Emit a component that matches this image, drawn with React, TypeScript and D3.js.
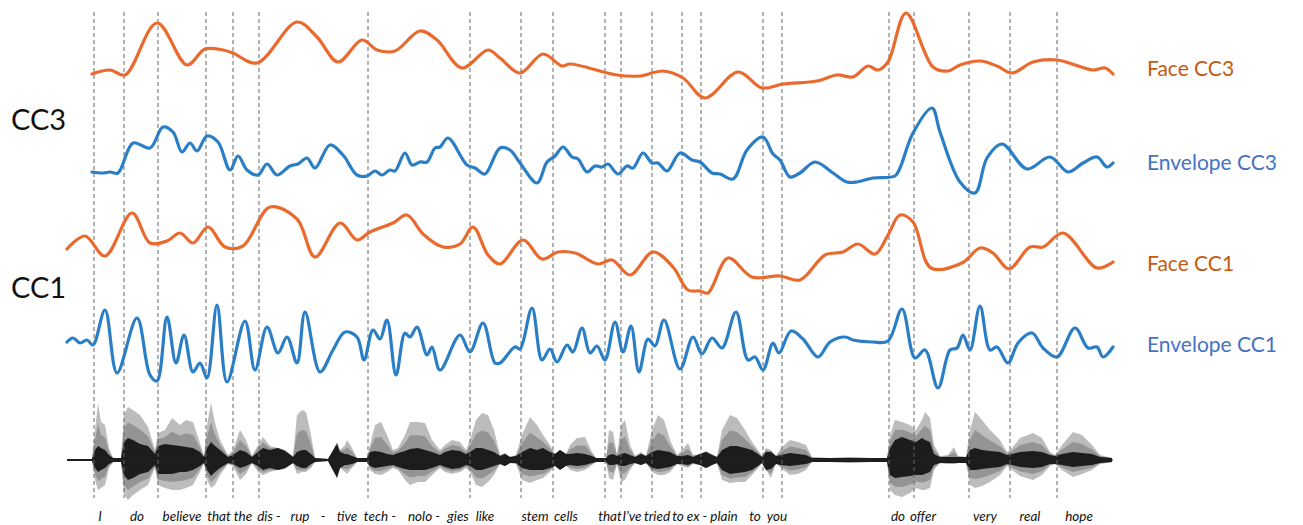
import React from "react";
import * as d3 from "d3";

// time axis in arbitrary frame units (0 .. 1060)
const boundaries = [34, 64, 98, 146, 173, 199, 308, 410, 461, 493, 545, 561, 592, 622, 641, 703, 722, 829, 854, 909, 950, 997];

const words = ["I", "do", "believe", "that", "the", "dis -", "rup", "-", "tive", "tech -", "nolo -", "gies", "like", "stem", "cells", "that", "I\u2019ve", "tried", "to", "ex -", "plain", "to", "you", "do", "offer", "very", "real", "hope"];
const wordT = [40, 77, 122, 159, 183, 209, 240, 263, 287, 320, 364, 398, 425, 475, 506, 550, 572, 597, 618, 637, 664, 695, 717, 838, 863, 925, 970, 1019];

const faceCC3T = [32, 50, 65, 97, 127, 145, 163, 173, 197, 237, 257, 278, 302, 317, 335, 360, 377, 402, 428, 440, 460, 483, 502, 510, 557, 580, 603, 623, 645, 678, 702, 723, 757, 777, 793, 808, 818, 828, 846, 873, 888, 900, 920, 937, 952, 973, 997, 1033, 1045, 1053];
const faceCC3V = [31, 35, 30, 82, 40, 56, 55, 52, 42, 83, 68, 43, 65, 55, 54, 74, 65, 37, 55, 47, 32, 51, 39, 41, 30, 29, 34, 27, 7, 33, 17, 21, 24, 30, 28, 39, 35, 43, 92, 38, 34, 40, 44, 39, 32, 43, 45, 35, 37, 31];

const envCC3T = [32, 43, 50, 58, 73, 90, 103, 113, 122, 130, 137, 147, 158, 170, 178, 187, 198, 207, 217, 230, 238, 247, 255, 270, 283, 297, 307, 315, 322, 330, 335, 345, 352, 360, 367, 375, 380, 388, 407, 415, 425, 440, 450, 460, 477, 487, 495, 503, 512, 518, 527, 535, 542, 548, 558, 567, 573, 583, 592, 598, 607, 620, 632, 640, 652, 660, 673, 687, 703, 713, 720, 730, 740, 755, 773, 787, 797, 813, 835, 840, 853, 872, 880, 900, 915, 927, 942, 967, 990, 1008, 1023, 1037, 1047, 1053];
const envCC3V = [28, 27, 28, 27, 57, 52, 73, 68, 48, 57, 49, 64, 58, 30, 44, 30, 25, 36, 25, 34, 36, 42, 32, 55, 45, 25, 24, 29, 25, 30, 29, 47, 35, 38, 38, 52, 53, 62, 35, 32, 26, 52, 50, 37, 17, 38, 44, 53, 43, 41, 28, 34, 33, 36, 26, 34, 32, 47, 37, 37, 29, 47, 40, 38, 27, 26, 21, 50, 63, 46, 40, 23, 27, 38, 27, 18, 18, 22, 24, 32, 67, 92, 68, 18, 7, 42, 56, 31, 43, 28, 37, 43, 33, 37];

const faceCC1T = [7, 25, 45, 72, 90, 107, 120, 133, 148, 165, 183, 210, 237, 255, 280, 297, 310, 333, 347, 363, 383, 400, 413, 428, 440, 463, 482, 498, 515, 538, 552, 570, 593, 613, 628, 640, 648, 668, 692, 720, 740, 765, 783, 798, 815, 828, 840, 853, 871, 902, 920, 933, 949, 970, 983, 1003, 1037, 1053];
const faceCC1V = [51, 64, 44, 87, 57, 59, 67, 57, 73, 53, 54, 93, 81, 43, 77, 60, 68, 77, 85, 66, 53, 56, 73, 45, 36, 60, 41, 48, 47, 36, 40, 25, 48, 33, 10, 9, 7, 42, 23, 24, 20, 45, 48, 56, 46, 65, 85, 78, 32, 37, 52, 47, 31, 53, 53, 67, 32, 38];

const envCC1T = [7, 13, 20, 27, 33, 45, 57, 77, 90, 97, 107, 116, 124, 133, 140, 147, 157, 167, 185, 195, 207, 218, 227, 237, 245, 260, 273, 285, 297, 304, 313, 320, 327, 336, 345, 350, 357, 367, 372, 380, 400, 410, 423, 435, 440, 455, 460, 472, 482, 490, 497, 507, 513, 522, 530, 537, 545, 555, 563, 571, 579, 588, 595, 604, 620, 633, 642, 652, 662, 676, 688, 695, 703, 713, 719, 731, 743, 758, 770, 785, 793, 813, 828, 842, 855, 865, 878, 890, 897, 903, 910, 920, 930, 937, 948, 958, 972, 983, 997, 1015, 1028, 1037, 1043, 1053];
const envCC1V = [58, 62, 57, 60, 55, 90, 27, 82, 25, 19, 83, 37, 65, 28, 37, 22, 95, 18, 79, 30, 73, 47, 63, 37, 88, 28, 50, 68, 63, 40, 70, 61, 80, 25, 67, 63, 73, 45, 53, 30, 65, 48, 77, 37, 37, 53, 51, 92, 40, 51, 38, 55, 48, 72, 47, 54, 40, 78, 48, 74, 28, 61, 54, 80, 31, 63, 46, 62, 52, 88, 40, 43, 30, 57, 47, 69, 61, 43, 58, 63, 60, 58, 59, 91, 42, 50, 12, 50, 52, 65, 50, 94, 50, 53, 37, 57, 67, 52, 43, 72, 52, 53, 43, 53];

// speech waveform envelope (amplitude above / below the centre line)
const waveT = [7, 32, 35, 38, 41, 45, 49, 53, 61, 64, 68, 73, 80, 88, 95, 98, 105, 112, 120, 126, 133, 140, 144, 147, 151, 155, 160, 168, 173, 180, 186, 192, 198, 203, 210, 218, 225, 233, 237, 242, 246, 251, 255, 268, 277, 280, 285, 287, 292, 297, 307, 310, 315, 321, 327, 333, 338, 345, 350, 358, 365, 372, 380, 385, 392, 400, 406, 410, 416, 422, 428, 434, 440, 445, 450, 456, 462, 470, 477, 483, 490, 495, 500, 506, 510, 517, 525, 532, 536, 546, 549, 553, 557, 561, 565, 570, 575, 581, 586, 592, 598, 604, 610, 617, 622, 628, 633, 640, 646, 652, 657, 662, 670, 677, 685, 692, 698, 702, 706, 711, 716, 721, 730, 738, 746, 752, 770, 790, 810, 827, 830, 835, 842, 850, 856, 862, 865, 870, 874, 880, 888, 894, 898, 906, 910, 915, 922, 930, 940, 947, 952, 960, 973, 982, 990, 995, 1002, 1013, 1022, 1032, 1040, 1052];
const waveLightUp = [1, 1, 30, 57, 38, 35, 12, 2, 2, 45, 53, 50, 45, 33, 10, 27, 30, 42, 35, 40, 38, 17, 4, 35, 57, 37, 20, 5, 10, 30, 20, 4, 15, 23, 14, 12, 10, 4, 45, 50, 48, 25, 2, 1, 18, 10, 15, 20, 12, 2, 2, 15, 35, 38, 25, 10, 12, 25, 38, 38, 37, 20, 10, 15, 20, 18, 10, 20, 40, 47, 45, 30, 5, 7, 3, 5, 25, 43, 35, 25, 15, 6, 10, 6, 15, 22, 23, 8, 2, 2, 30, 28, 5, 35, 40, 15, 4, 8, 4, 30, 45, 40, 20, 5, 10, 17, 5, 6, 9, 6, 3, 30, 45, 42, 30, 18, 10, 4, 12, 10, 4, 12, 20, 18, 15, 3, 2, 3, 2, 2, 25, 40, 38, 35, 30, 40, 48, 42, 15, 4, 5, 13, 4, 3, 30, 48, 40, 30, 20, 8, 12, 22, 27, 22, 8, 5, 15, 28, 25, 15, 5, 2];
const waveLightDown = [1, 1, 20, 30, 28, 25, 8, 2, 2, 35, 40, 35, 30, 25, 8, 25, 28, 30, 30, 28, 25, 12, 3, 20, 28, 25, 15, 4, 6, 20, 14, 3, 12, 15, 12, 10, 9, 3, 14, 12, 12, 8, 2, 1, 16, 8, 12, 14, 8, 2, 2, 10, 14, 15, 12, 8, 10, 20, 25, 22, 22, 15, 8, 12, 14, 12, 8, 12, 25, 27, 22, 15, 4, 6, 3, 4, 20, 23, 20, 18, 12, 5, 9, 5, 10, 12, 10, 5, 2, 2, 18, 20, 4, 22, 20, 10, 3, 5, 3, 12, 15, 15, 12, 4, 6, 8, 4, 5, 8, 5, 3, 20, 23, 22, 22, 15, 8, 3, 10, 18, 3, 8, 15, 14, 10, 2, 2, 3, 2, 2, 30, 35, 37, 33, 28, 30, 30, 28, 10, 3, 4, 4, 3, 3, 25, 28, 26, 22, 15, 6, 10, 16, 20, 15, 6, 4, 10, 17, 14, 10, 4, 2];
const waveDarkUp = [1, 1, 10, 14, 12, 10, 5, 2, 2, 18, 22, 20, 16, 14, 6, 14, 16, 15, 14, 13, 12, 8, 3, 12, 18, 14, 10, 3, 5, 10, 8, 3, 8, 12, 10, 12, 9, 3, 8, 10, 10, 6, 2, 1, 16, 8, 6, 6, 4, 2, 2, 8, 9, 8, 6, 5, 7, 9, 11, 12, 10, 8, 5, 8, 10, 9, 6, 8, 12, 12, 10, 8, 4, 6, 3, 4, 8, 12, 10, 12, 8, 6, 10, 6, 6, 7, 6, 4, 2, 2, 5, 6, 4, 6, 7, 5, 3, 6, 4, 8, 10, 9, 8, 4, 4, 5, 3, 6, 8, 5, 3, 10, 14, 14, 12, 10, 6, 3, 8, 8, 4, 5, 7, 6, 5, 2, 2, 2, 2, 2, 12, 20, 23, 20, 18, 22, 20, 18, 6, 3, 3, 3, 3, 3, 10, 12, 10, 9, 8, 5, 6, 8, 9, 8, 5, 4, 6, 8, 7, 6, 3, 2];
const waveDarkDown = [1, 1, 8, 12, 10, 8, 4, 2, 2, 15, 20, 18, 14, 12, 5, 14, 14, 14, 12, 12, 10, 6, 3, 10, 16, 12, 8, 3, 4, 8, 6, 3, 6, 10, 8, 10, 8, 3, 6, 8, 8, 4, 2, 1, 18, 8, 5, 5, 4, 2, 2, 6, 8, 7, 6, 5, 7, 9, 10, 10, 10, 8, 5, 7, 9, 8, 5, 6, 10, 10, 8, 6, 4, 6, 3, 3, 8, 10, 10, 10, 8, 6, 10, 6, 5, 6, 5, 3, 2, 2, 5, 5, 4, 6, 6, 4, 3, 5, 3, 8, 9, 8, 7, 4, 4, 5, 3, 5, 8, 5, 3, 10, 14, 13, 12, 10, 6, 3, 10, 9, 4, 5, 6, 5, 4, 2, 2, 2, 2, 2, 15, 18, 17, 16, 15, 15, 14, 12, 5, 3, 3, 3, 3, 3, 10, 10, 9, 8, 7, 4, 5, 7, 8, 7, 4, 4, 5, 7, 6, 5, 3, 2];

const W = 1303;
const H = 525;
const ORANGE = "#EA6A2E";
const BLUE = "#2A7EC6";

const x = d3.scaleLinear().domain([0, 1060]).range([60, 1120]);

const tracks = [
  { t: faceCC3T, v: faceCC3V, color: ORANGE, y: d3.scaleLinear().domain([0, 100]).range([105, 5]) },
  { t: envCC3T, v: envCC3V, color: BLUE, y: d3.scaleLinear().domain([0, 100]).range([200, 100]) },
  { t: faceCC1T, v: faceCC1V, color: ORANGE, y: d3.scaleLinear().domain([0, 100]).range([300, 200]) },
  { t: envCC1T, v: envCC1V, color: BLUE, y: d3.scaleLinear().domain([0, 100]).range([400, 300]) },
];

const waveCenter = 460;
const amp = d3.scaleLinear().domain([0, 60]).range([0, 60]);

export default function App() {
  const waveIdx = d3.range(waveT.length);
  const lightArea = d3
    .area<number>()
    .x((i) => x(waveT[i]))
    .y0((i) => waveCenter + amp(waveLightDown[i]))
    .y1((i) => waveCenter - amp(waveLightUp[i]))
    .curve(d3.curveLinear);
  const midArea = d3
    .area<number>()
    .x((i) => x(waveT[i]))
    .y0((i) => waveCenter + amp((waveLightDown[i] + waveDarkDown[i]) / 2))
    .y1((i) => waveCenter - amp((waveLightUp[i] + waveDarkUp[i]) / 2))
    .curve(d3.curveLinear);
  const darkArea = d3
    .area<number>()
    .x((i) => x(waveT[i]))
    .y0((i) => waveCenter + amp(waveDarkDown[i]))
    .y1((i) => waveCenter - amp(waveDarkUp[i]))
    .curve(d3.curveLinear);

  const labelFont = "Lato, 'Open Sans', sans-serif";

  return (
    <svg width={W} height={H} style={{ position: "absolute", left: 0, top: 0, background: "#fff" }}>
      <rect width={W} height={H} fill="#fff" />
      {/* waveform */}
      <path d={lightArea(waveIdx) || ""} fill="#bcbcbc" />
      <path d={midArea(waveIdx) || ""} fill="#8a8a8a" opacity={0.8} />
      <path d={darkArea(waveIdx) || ""} fill="#1c1c1c" />
      <line x1={x(7)} x2={x(1053)} y1={waveCenter} y2={waveCenter} stroke="#222" strokeWidth={1.2} />

      {/* word boundaries */}
      {boundaries.map((b, i) => (
        <line key={i} x1={x(b)} x2={x(b)} y1={12} y2={498} stroke="#666" strokeWidth={1} strokeDasharray="4,3" />
      ))}

      {/* traces */}
      {tracks.map((tr, k) => {
        const line = d3
          .line<number>()
          .x((i) => x(tr.t[i]))
          .y((i) => tr.y(tr.v[i]))
          .curve(d3.curveCatmullRom.alpha(0.5));
        return (
          <path
            key={k}
            d={line(d3.range(tr.t.length)) || ""}
            fill="none"
            stroke={tr.color}
            strokeWidth={3.2}
            strokeLinejoin="round"
            strokeLinecap="round"
          />
        );
      })}

      {/* words */}
      {words.map((w, i) => (
        <text key={i} x={x(wordT[i])} y={521} textAnchor="middle" fontStyle="italic" fontSize={13.5} fontFamily={labelFont} fill="#111">
          {w}
        </text>
      ))}

      {/* labels */}
      <text x={11} y={130} fontSize={29} fontFamily={labelFont} fill="#111">CC3</text>
      <text x={11} y={298} fontSize={29} fontFamily={labelFont} fill="#111">CC1</text>
      <text x={1147} y={76} fontSize={21} fontFamily={labelFont} fill="#C55A11">Face CC3</text>
      <text x={1147} y={170} fontSize={21} fontFamily={labelFont} fill="#4472C4">Envelope CC3</text>
      <text x={1147} y={271} fontSize={21} fontFamily={labelFont} fill="#C55A11">Face CC1</text>
      <text x={1147} y={352} fontSize={21} fontFamily={labelFont} fill="#4472C4">Envelope CC1</text>
    </svg>
  );
}
